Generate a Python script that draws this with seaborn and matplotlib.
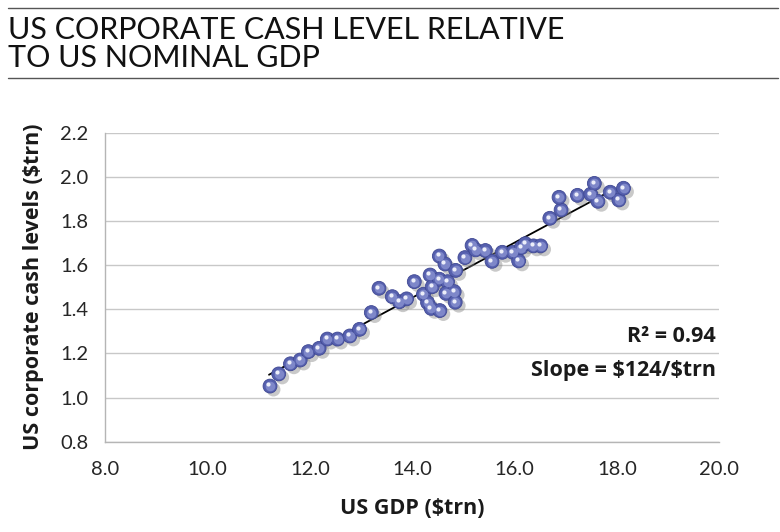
import numpy as np
import pandas as pd
import matplotlib
matplotlib.use("Agg")
import matplotlib.pyplot as plt
import matplotlib.patheffects as pe
import matplotlib.transforms as mtransforms
import seaborn as sns

# ---- data ----
gdp = [11.22, 11.39, 11.62, 11.81, 11.97, 12.18, 12.34, 12.54, 12.78, 12.97,
       13.20, 13.35, 13.61, 13.75, 13.89, 14.04, 14.22, 14.30, 14.37, 14.54,
       14.35, 14.39, 14.53, 14.69, 14.66, 14.82, 14.84, 14.53, 14.64, 14.85,
       15.03, 15.17, 15.24, 15.43, 15.56, 15.76, 15.97, 16.08, 16.13, 16.21,
       16.37, 16.51, 16.69, 16.91, 16.87, 17.23, 17.49, 17.56, 17.63, 17.87,
       18.04, 18.13]
cash = [1.052, 1.107, 1.153, 1.170, 1.208, 1.223, 1.265, 1.265, 1.279, 1.309,
        1.385, 1.495, 1.457, 1.434, 1.447, 1.525, 1.468, 1.430, 1.404, 1.394,
        1.555, 1.502, 1.536, 1.525, 1.472, 1.480, 1.432, 1.641, 1.605, 1.576,
        1.634, 1.689, 1.669, 1.666, 1.617, 1.658, 1.658, 1.619, 1.679, 1.697,
        1.687, 1.687, 1.812, 1.850, 1.907, 1.916, 1.921, 1.970, 1.889, 1.930,
        1.895, 1.948]
trend_range = [11.2, 17.8]
x_ticks = [8.0, 10.0, 12.0, 14.0, 16.0, 18.0, 20.0]
y_ticks = [0.8, 1.0, 1.2, 1.4, 1.6, 1.8, 2.0, 2.2]
title_lines = ["US CORPORATE CASH LEVEL RELATIVE", "TO US NOMINAL GDP"]
x_label = "US GDP (\\$trn)"
y_label = "US corporate cash levels (\\$trn)"
annot_r2 = "R\u00b2 = 0.94"
annot_slope = "Slope = \\$124/\\$trn"

df = pd.DataFrame({"gdp": gdp, "cash": cash})

sns.set_theme(style="white")
plt.rcParams["font.family"] = ["Lato", "DejaVu Sans"]

fig = plt.figure(figsize=(7.8, 5.32), dpi=100)
ax = fig.add_axes([0.135, 0.1697, 0.787, 0.581])

# trend line
coef = np.polyfit(df["gdp"], df["cash"], 1)
tx = np.array(trend_range)
ax.plot(tx, np.polyval(coef, tx), color="black", lw=1.3, zorder=2)

# spheres
sns.scatterplot(data=df, x="gdp", y="cash", ax=ax, s=100, color="#5660ae",
                edgecolor="#3f4893", linewidth=0.6, zorder=3, legend=False)
coll = ax.collections[-1]
coll.set_path_effects([pe.SimplePatchShadow(offset=(2.5, -2.5), shadow_rgbFace="#888888", alpha=0.45),
                       pe.Normal()])
ax.scatter(df["gdp"], df["cash"], s=48, color="#7e87c9", linewidth=0, zorder=4)
hl = mtransforms.offset_copy(ax.transData, fig=fig, x=-1.2, y=1.2, units="points")
ax.scatter(df["gdp"], df["cash"], s=9, color="#eceef9", linewidth=0, zorder=5, transform=hl)

ax.set_xlim(8.0, 20.0)
ax.set_ylim(0.8, 2.2)
ax.set_xticks(x_ticks)
ax.set_yticks(y_ticks)
ax.set_xticklabels([f"{v:.1f}" for v in x_ticks])
ax.set_yticklabels([f"{v:.1f}" for v in y_ticks])
ax.grid(axis="y", color="#c8c8c8", lw=1.0)
ax.set_axisbelow(True)
for s in ["top", "right"]:
    ax.spines[s].set_visible(False)
for s in ["left", "bottom"]:
    ax.spines[s].set_color("#b5b5b5")
    ax.spines[s].set_linewidth(1.0)
ax.tick_params(axis="both", which="major", length=6, width=1.0, color="#b5b5b5",
               labelsize=14.5, labelcolor="#262626", direction="out", pad=6)
ax.tick_params(axis="x", pad=8)

bold_font = ["Open Sans", "DejaVu Sans"]
ax.set_xlabel(x_label, fontsize=15.5, fontweight="bold", color="#1a1a1a",
              labelpad=14, family=bold_font)
ax.set_ylabel(y_label, fontsize=15.5, fontweight="bold", color="#1a1a1a",
              labelpad=12, family=bold_font)

ax.text(0.995, 0.342, annot_r2, transform=ax.transAxes, ha="right", va="center",
        fontsize=15.5, fontweight="bold", color="#1a1a1a", family=bold_font)
ax.text(0.995, 0.230, annot_slope, transform=ax.transAxes, ha="right", va="center",
        fontsize=15.5, fontweight="bold", color="#1a1a1a", family=bold_font)

# title block with rules
fig.add_artist(plt.Line2D([8/780, 778/780], [1 - 8/532, 1 - 8/532], color="#555555", lw=1.0))
fig.add_artist(plt.Line2D([8/780, 778/780], [1 - 78/532, 1 - 78/532], color="#555555", lw=1.0))
fig.text(8/780, 1 - 30/532, title_lines[0], fontsize=22, fontweight="normal",
         color="#111111", va="center", ha="left")
fig.text(8/780, 1 - 58/532, title_lines[1], fontsize=22, fontweight="normal",
         color="#111111", va="center", ha="left")

fig.savefig("out.png", dpi=100)
